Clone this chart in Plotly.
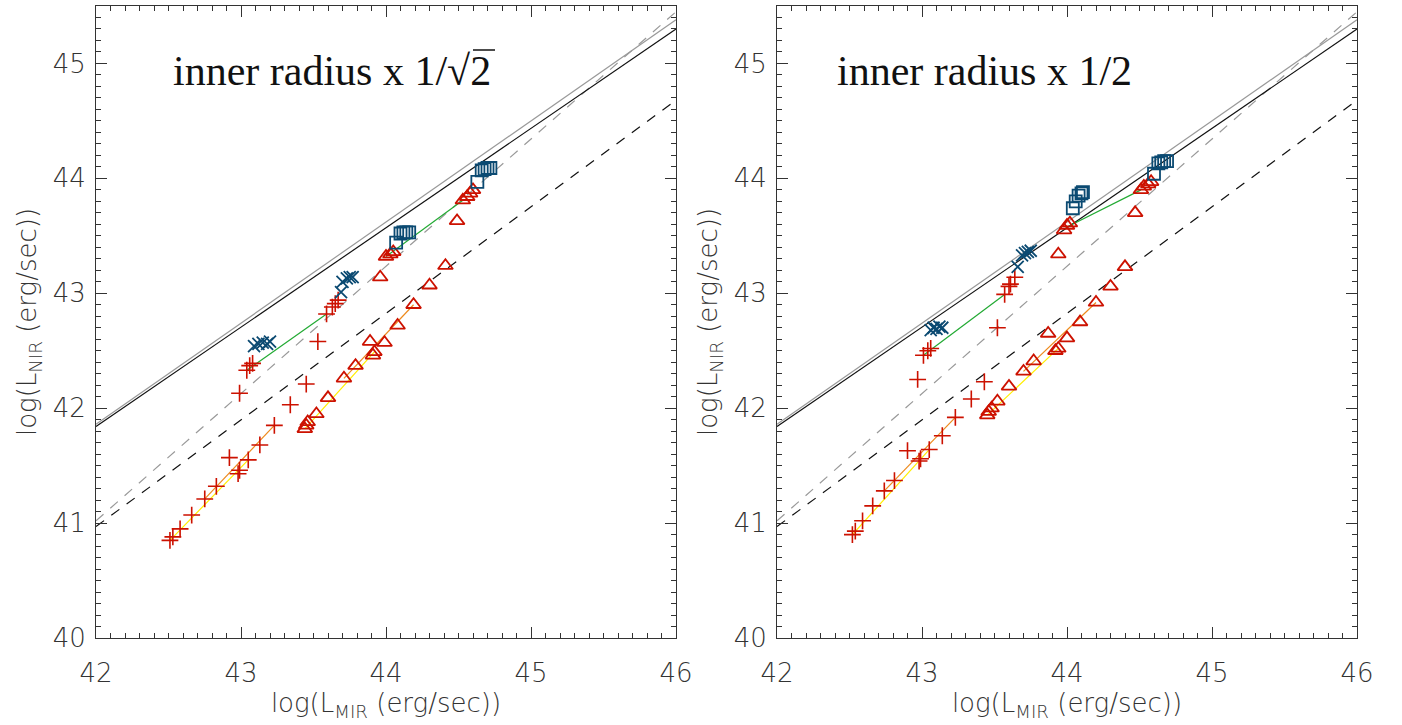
import plotly.graph_objects as go

# ---------------- data ----------------
x_ref = [42.0, 46.0]
y_black_solid = [41.84, 45.30]
y_gray_solid = [41.86, 45.38]
y_gray_dash = [41.02, 45.45]
y_black_dash = [40.97, 44.68]

# Left panel: inner radius x 1/sqrt(2)
plus_x_L = [42.51, 42.53, 42.58, 42.66, 42.75, 42.83, 42.92, 42.98, 42.99, 43.05, 43.13, 43.23,
            43.34, 43.45, 43.53, 42.99, 43.04, 43.06, 43.08, 43.59, 43.63, 43.65, 43.67]
plus_y_L = [40.85, 40.88, 40.95, 41.07, 41.21, 41.32, 41.57, 41.43, 41.46, 41.55, 41.68, 41.85,
            42.03, 42.21, 42.58, 42.13, 42.33, 42.37, 42.39, 42.82, 42.88, 42.91, 42.94]
tri_x_L = [43.44, 43.45, 43.46, 43.52, 43.60, 43.71, 43.79, 43.89, 43.91, 43.92, 43.99, 44.08,
           44.19, 44.30, 44.41, 43.96, 44.00, 44.03, 44.05, 44.49, 44.53, 44.56, 44.58, 44.60]
tri_y_L = [41.82, 41.85, 41.88, 41.95, 42.09, 42.26, 42.37, 42.58, 42.46, 42.49, 42.57, 42.72,
           42.90, 43.07, 43.24, 43.14, 43.32, 43.34, 43.36, 43.63, 43.81, 43.84, 43.87, 43.90]
cross_x_L = [43.09, 43.12, 43.15, 43.18, 43.20, 43.69, 43.70, 43.73, 43.75, 43.77]
cross_y_L = [42.54, 42.56, 42.57, 42.56, 42.58, 43.01, 43.10, 43.13, 43.14, 43.14]
sq_x_L = [44.07, 44.10, 44.12, 44.14, 44.16, 44.63, 44.66, 44.68, 44.70, 44.72]
sq_y_L = [43.44, 43.52, 43.53, 43.53, 43.53, 43.97, 44.07, 44.08, 44.09, 44.09]
green_x_L = [43.04, 43.59, None, 44.00, 44.53]
green_y_L = [42.33, 42.82, None, 43.32, 43.81]
orange_x_L = [42.75, 43.23, None, 43.71, 44.19]
orange_y_L = [41.21, 41.85, None, 42.26, 42.90]
yellow_x_L = [42.51, 43.05, None, 43.44, 43.92]
yellow_y_L = [40.85, 41.55, None, 41.82, 42.49]

# Right panel: inner radius x 1/2
plus_x_R = [42.52, 42.54, 42.59, 42.66, 42.74, 42.81, 42.90, 42.98, 42.99, 43.05, 43.14, 43.23,
            43.34, 43.43, 43.52, 42.97, 43.01, 43.04, 43.06, 43.57, 43.60, 43.61, 43.64]
plus_y_R = [40.90, 40.93, 41.02, 41.15, 41.28, 41.37, 41.63, 41.54, 41.56, 41.64, 41.76, 41.92,
            42.08, 42.23, 42.70, 42.25, 42.46, 42.50, 42.52, 42.99, 43.06, 43.08, 43.14]
tri_x_R = [43.45, 43.46, 43.48, 43.52, 43.60, 43.70, 43.77, 43.87, 43.92, 43.94, 44.00, 44.09,
           44.20, 44.30, 44.40, 43.94, 43.98, 44.00, 44.02, 44.47, 44.51, 44.53, 44.56, 44.58]
tri_y_R = [41.94, 41.97, 42.00, 42.06, 42.19, 42.32, 42.41, 42.65, 42.50, 42.52, 42.61, 42.75,
           42.92, 43.06, 43.23, 43.34, 43.55, 43.59, 43.61, 43.70, 43.90, 43.93, 43.95, 43.97]
cross_x_R = [43.06, 43.08, 43.10, 43.12, 43.14, 43.66, 43.69, 43.71, 43.73, 43.75]
cross_y_R = [42.68, 42.70, 42.69, 42.71, 42.70, 43.23, 43.33, 43.35, 43.36, 43.37]
sq_x_R = [44.04, 44.06, 44.08, 44.10, 44.11, 44.60, 44.63, 44.65, 44.67, 44.69]
sq_y_R = [43.74, 43.80, 43.85, 43.87, 43.88, 44.04, 44.13, 44.14, 44.15, 44.15]
green_x_R = [43.01, 43.57, None, 43.99, 44.51]
green_y_R = [42.46, 42.99, None, 43.57, 43.90]
orange_x_R = [42.74, 43.23, None, 43.70, 44.20]
orange_y_R = [41.28, 41.92, None, 42.32, 42.92]
yellow_x_R = [42.52, 43.05, None, 43.45, 43.94]
yellow_y_R = [40.90, 41.64, None, 41.94, 42.52]

titles = ["inner radius x 1/\u221a2", "inner radius x 1/2"]
x_tickvals = [42, 43, 44, 45, 46]
y_tickvals = [40, 41, 42, 43, 44, 45]

RED = "#cc1100"
BLUE = "#0b4a72"

fig = go.Figure()

panels = [
    dict(xa="x", ya="y", plus=(plus_x_L, plus_y_L), tri=(tri_x_L, tri_y_L),
         cross=(cross_x_L, cross_y_L), sq=(sq_x_L, sq_y_L),
         green=(green_x_L, green_y_L), orange=(orange_x_L, orange_y_L), yellow=(yellow_x_L, yellow_y_L)),
    dict(xa="x2", ya="y2", plus=(plus_x_R, plus_y_R), tri=(tri_x_R, tri_y_R),
         cross=(cross_x_R, cross_y_R), sq=(sq_x_R, sq_y_R),
         green=(green_x_R, green_y_R), orange=(orange_x_R, orange_y_R), yellow=(yellow_x_R, yellow_y_R)),
]

for p in panels:
    xa, ya = p["xa"], p["ya"]
    def line(xs, ys, color, dash="solid", width=1.2):
        fig.add_trace(go.Scatter(x=xs, y=ys, mode="lines", xaxis=xa, yaxis=ya,
                                 line=dict(color=color, width=width, dash=dash),
                                 showlegend=False, hoverinfo="skip"))
    line(x_ref, y_gray_dash, "#999999", dash="10px,9px", width=1.2)
    line(x_ref, y_black_dash, "#111111", dash="10px,9px", width=1.2)
    line(x_ref, y_gray_solid, "#999999")
    line(x_ref, y_black_solid, "#111111")
    line(*p["yellow"], "#ffee00", width=1.2)
    line(*p["orange"], "#ee8a1c", width=1.2)
    line(*p["green"], "#22aa33", width=1.2)

    fig.add_trace(go.Scatter(x=p["plus"][0], y=p["plus"][1], mode="markers", xaxis=xa, yaxis=ya,
                             marker=dict(symbol="cross-thin", size=12, line=dict(color=RED, width=1.6)),
                             showlegend=False))
    fig.add_trace(go.Scatter(x=p["tri"][0], y=p["tri"][1], mode="markers", xaxis=xa, yaxis=ya,
                             marker=dict(symbol="triangle-up-open", size=13, color=RED,
                                         line=dict(color=RED, width=1.8)),
                             showlegend=False))
    fig.add_trace(go.Scatter(x=p["cross"][0], y=p["cross"][1], mode="markers", xaxis=xa, yaxis=ya,
                             marker=dict(symbol="x-thin", size=12, line=dict(color=BLUE, width=1.8)),
                             showlegend=False))
    fig.add_trace(go.Scatter(x=p["sq"][0], y=p["sq"][1], mode="markers", xaxis=xa, yaxis=ya,
                             marker=dict(symbol="square-open", size=12, color=BLUE,
                                         line=dict(color=BLUE, width=1.8)),
                             showlegend=False))

W, H = 1402, 725
dom_y = [1 - 638 / H, 1 - 6 / H]
dom_x1 = [96 / W, 676 / W]
dom_x2 = [777 / W, 1357 / W]

tick_font = dict(family="DejaVu Sans", size=26, color="#333333", weight=200)
title_font = dict(family="DejaVu Sans", size=26, color="#333333", weight=200)

def xaxis(domain, anchor):
    return dict(domain=domain, anchor=anchor, range=[42, 46], tickvals=x_tickvals,
                ticks="inside", ticklen=11, tickwidth=1, tickcolor="#333333",
                minor=dict(ticks="inside", ticklen=5, dtick=0.1, tickwidth=1, tickcolor="#333333"),
                showline=True, linecolor="#333333", linewidth=1, mirror="allticks",
                showgrid=False, zeroline=False, tickfont=tick_font, ticklabelstandoff=12,
                automargin=False,
                title=dict(text="log(L<sub>MIR</sub> (erg/sec))", font=title_font, standoff=4))

def yaxis(domain, anchor):
    return dict(domain=domain, anchor=anchor, range=[40, 45.5], tickvals=y_tickvals,
                ticks="inside", ticklen=11, tickwidth=1, tickcolor="#333333",
                minor=dict(ticks="inside", ticklen=5, dtick=0.1, tickwidth=1, tickcolor="#333333"),
                showline=True, linecolor="#333333", linewidth=1, mirror="allticks",
                showgrid=False, zeroline=False, tickfont=tick_font, ticklabelstandoff=4,
                automargin=False,
                title=dict(text="log(L<sub>NIR</sub> (erg/sec))", font=title_font, standoff=8))

fig.update_layout(
    width=W, height=H, autosize=False,
    margin=dict(l=0, r=0, t=0, b=0, autoexpand=False),
    paper_bgcolor="white", plot_bgcolor="white",
    xaxis=xaxis(dom_x1, "y"), yaxis=yaxis(dom_y, "x"),
    xaxis2=xaxis(dom_x2, "y2"), yaxis2=yaxis(dom_y, "x2"),
    showlegend=False,
)

title_x = [171 / W, 835 / W]
for xpos, t in zip(title_x, titles):
    fig.add_annotation(text=t, xref="paper", yref="paper", x=xpos, y=1 - 71 / H,
                       xanchor="left", yanchor="middle", showarrow=False,
                       font=dict(family="Liberation Serif", size=42, color="#111111"))

# overline (vinculum) of the square root in the left title
fig.add_shape(type="line", xref="paper", yref="paper",
              x0=473 / W, x1=495 / W, y0=1 - 50 / H, y1=1 - 50 / H,
              line=dict(color="#111111", width=1.5))

fig.write_html("out.html", config={"displayModeBar": False},
               post_script="document.body.style.margin='0';document.body.style.overflow='hidden';")
